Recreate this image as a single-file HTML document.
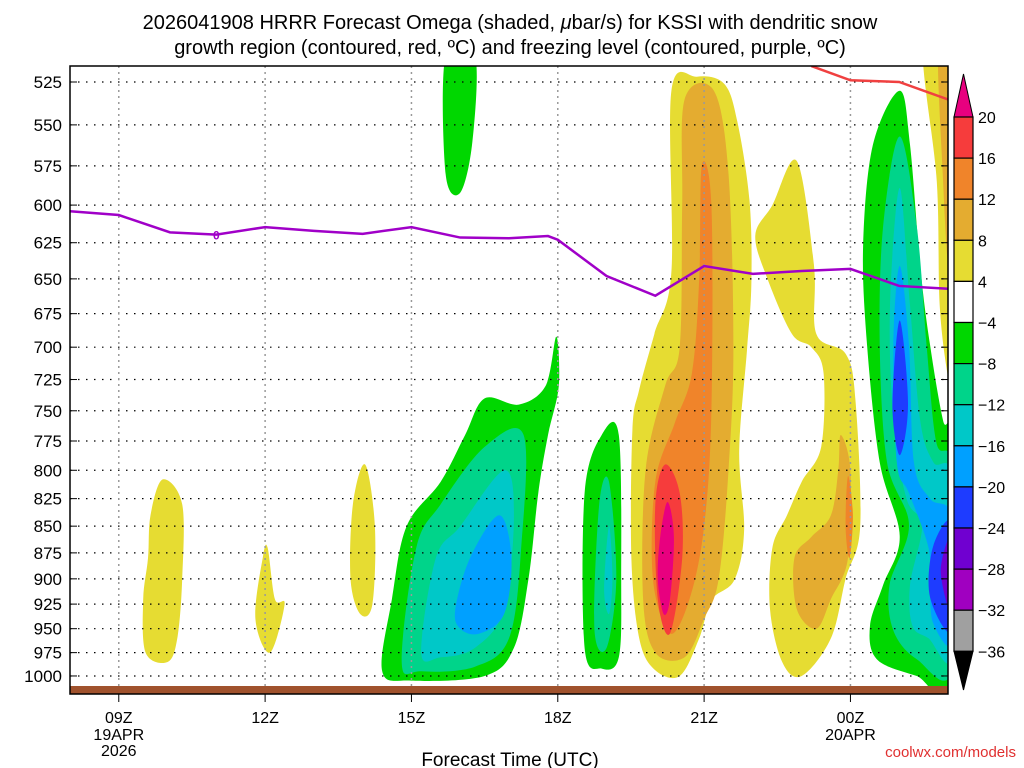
<!DOCTYPE html>
<html><head><meta charset="utf-8">
<style>
body{margin:0;background:#fff;}
svg{display:block;font-family:"Liberation Sans",sans-serif;}
</style></head>
<body>
<svg id="c" width="1024" height="768" viewBox="0 0 1024 768">
<text x="510" y="29" font-size="20" text-anchor="middle">2026041908 HRRR Forecast Omega (shaded, <tspan font-style="italic">μ</tspan>bar/s) for KSSI with dendritic snow</text>
<text x="510" y="54" font-size="20" text-anchor="middle">growth region (contoured, red, ºC) and freezing level (contoured, purple, ºC)</text>
<defs><clipPath id="pc"><rect x="70" y="66" width="878" height="622"/></clipPath></defs>
<g id="fills" clip-path="url(#pc)"></g>
<g id="grid"></g>
<g id="lines" clip-path="url(#pc)"></g>
<rect x="70" y="686" width="878" height="8" fill="#a0522d"/>
<rect x="70" y="66" width="878" height="628" fill="none" stroke="#000" stroke-width="1.5"/>
<g id="axes"></g>
<g id="cbar"></g>
<text x="510" y="766" font-size="19" text-anchor="middle">Forecast Time (UTC)</text>
<text x="1016" y="757" font-size="15" fill="#e03030" text-anchor="end">coolwx.com/models</text>
</svg>
<script>
const NS='http://www.w3.org/2000/svg';
// ---- data ----
const pressureTicks=[525,550,575,600,625,650,675,700,725,750,775,800,825,850,875,900,925,950,975,1000];
const timeTicks=[9,12,15,18,21,24];
const timeLabels=['09Z','12Z','15Z','18Z','21Z','00Z'];
const dateLabels=['19APR\n2026','','','','','20APR'];
const cbarLevels=['20','16','12','8','4','−4','−8','−12','−16','−20','−24','−28','−32','−36'];
const cbarColors=['#f63c3c','#f0842a','#e4ac30','#e6dc32','#ffffff','#00d700','#00d48a','#00c8c8','#00a0ff','#1e3cff','#7000d0','#a000c0','#a0a0a0'];
const freezeHours=[8,9,10.05,11,12,13,14,15,16,17,17.8,18,19,20,21,22,23,24,25,26];
const freezeP=[604,606.5,618,619.5,614.5,617,619,614.5,621.5,622,620.5,623,648,662,641,646.5,644.5,643,655,657];
const dendHours=[23.2,24,25,26];
const dendP=[516,524,525,535];
const C={y4:'#e6dc32',o8:'#e4ac30',o12:'#f0842a',r16:'#f63c3c',m20:'#e8007f',g4:'#00d700',t8:'#00d48a',c12:'#00c8c8',b16:'#00a0ff',b20:'#1e3cff',p24:'#7000d0',p28:'#a000c0'};
// contour polygons [level, [[hour,hPa],...]]
const blobs=[
['y4',[[9.55,975],[9.5,920],[9.6,880],[9.65,840],[9.9,808],[10.3,830],[10.3,900],[10.2,960],[10.0,985]]],
['y4',[[11.8,940],[11.95,880],[12.05,870],[12.2,920],[12.4,925],[12.1,975]]],
['y4',[[13.75,900],[13.8,830],[14.05,795],[14.25,850],[14.2,925],[13.95,935]]],
['g4',[[15.7,510],[16.3,510],[16.25,560],[16.0,592],[15.7,580]]],
['g4',[[14.4,995],[14.6,920],[14.9,850],[15.6,810],[16.1,770],[16.5,740],[17.2,745],[17.75,730],[17.97,692],[18.02,730],[17.8,770],[17.6,820],[17.4,900],[17.1,970],[16.5,1000],[15.0,1005]]],
['t8',[[14.8,985],[15.1,870],[15.6,830],[16.5,780],[17.3,770],[17.25,870],[17.0,960],[16.3,990],[15.2,995]]],
['c12',[[15.2,975],[15.5,880],[16.0,850],[16.9,800],[17.1,840],[16.9,930],[16.3,970],[15.6,980]]],
['b16',[[15.9,930],[16.2,880],[16.8,840],[17.05,880],[16.9,935],[16.4,955],[16.0,950]]],
['g4',[[18.55,970],[18.55,820],[18.9,770],[19.25,770],[19.3,900],[19.25,980],[18.9,992]]],
['t8',[[18.75,950],[18.85,830],[19.05,810],[19.2,900],[19.0,970]]],
['c12',[[18.95,910],[19.05,850],[19.12,900],[19.05,935]]],
['y4',[[20.33,530],[20.33,645],[19.98,690],[19.67,733],[19.53,766],[19.51,881],[19.67,960],[19.98,993],[20.5,1000],[20.9,960],[21.15,921],[21.62,901],[21.82,854],[21.72,783],[21.88,702],[21.97,652],[21.93,597],[21.68,548],[21.41,526],[20.85,522]]],
['o8',[[20.6,535],[21.2,530],[21.5,580],[21.6,700],[21.5,800],[21.3,900],[21.0,940],[20.6,980],[20.0,975],[19.75,920],[19.8,800],[20.2,730],[20.5,700],[20.55,600]]],
['o12',[[20.95,575],[21.15,600],[21.15,750],[21.0,850],[20.7,920],[20.3,955],[19.95,900],[20.0,810],[20.4,760],[20.75,720],[20.9,650]]],
['r16',[[20.0,830],[20.2,795],[20.5,820],[20.55,880],[20.3,955],[20.05,920]]],
['m20',[[20.1,860],[20.25,828],[20.38,860],[20.3,920],[20.17,935],[20.05,900]]],
['y4',[[22.9,572],[23.25,640],[23.3,690],[23.9,705],[24.1,740],[24.2,850],[23.9,900],[23.6,960],[23.0,1000],[22.6,985],[22.35,930],[22.4,870],[22.7,840],[23.0,810],[23.4,780],[23.45,720],[23.2,700],[22.8,690],[22.3,650],[22.05,620],[22.4,600]]],
['o8',[[23.8,770],[24.0,800],[23.95,880],[23.6,920],[23.3,950],[22.9,930],[22.85,880],[23.2,860],[23.6,840],[23.75,800]]],
['o12',[[23.95,805],[24.05,840],[23.98,880],[23.9,850]]],
['g4',[[25.01,530],[25.22,562],[25.43,641],[25.63,698],[25.9,758],[26.1,776],[26.1,1010],[25.36,1000],[24.54,982],[24.4,947],[24.67,906],[25.01,859],[24.6,793],[24.34,698],[24.26,627],[24.46,562]]],
['t8',[[25.01,557],[25.36,614],[25.56,698],[25.76,776],[26.1,801],[26.1,991],[25.36,982],[24.88,952],[24.8,906],[25.2,849],[24.75,793],[24.6,698],[24.67,614]]],
['c12',[[25.01,589],[25.22,669],[25.43,758],[25.7,793],[26.1,809],[26.1,977],[25.6,960],[25.27,947],[25.22,906],[25.47,849],[25.15,825],[24.88,758],[24.81,669]]],
['b16',[[25.01,641],[25.2,698],[25.3,793],[25.63,825],[26.1,844],[26.1,962],[25.7,945],[25.63,906],[25.6,870],[25.2,820],[24.95,793],[24.88,698]]],
['b20',[[25.01,680],[25.18,745],[25.01,787],[24.86,745]]],
['b20',[[26.1,848],[25.7,868],[25.63,918],[26.1,952]]],
['p24',[[26.1,858],[25.85,892],[26.1,937]]],
['y4',[[25.49,505],[26.1,505],[26.1,730],[26.0,723],[25.83,669],[25.77,585]]],
['o8',[[25.8,505],[26.1,505],[26.1,650],[26.0,641],[25.9,585]]]
];
// ---- axes ----
const X0=70,X1=948,H0=8,H1=26;
function x(h){return X0+(h-H0)*(X1-X0)/(H1-H0);}
function y(p){return 82+921.8*Math.log(p/525);}
function el(t,a,parent){const e=document.createElementNS(NS,t);for(const k in a)e.setAttribute(k,a[k]);parent.appendChild(e);return e;}
function smooth(pts){
  const n=pts.length;let d='M'+pts[0][0].toFixed(1)+','+pts[0][1].toFixed(1);
  for(let i=0;i<n;i++){const p0=pts[(i-1+n)%n],p1=pts[i],p2=pts[(i+1)%n],p3=pts[(i+2)%n];
    const c1=[p1[0]+(p2[0]-p0[0])/6,p1[1]+(p2[1]-p0[1])/6],c2=[p2[0]-(p3[0]-p1[0])/6,p2[1]-(p3[1]-p1[1])/6];
    d+='C'+c1[0].toFixed(1)+','+c1[1].toFixed(1)+' '+c2[0].toFixed(1)+','+c2[1].toFixed(1)+' '+p2[0].toFixed(1)+','+p2[1].toFixed(1);}
  return d+'Z';
}
const fills=document.getElementById('fills');
blobs.forEach(b=>{
  const pts=b[1].map(v=>[x(v[0]),y(v[1])]);
  const pth=el('path',{d:smooth(pts),fill:C[b[0]]},fills);
  
  
});
const grid=document.getElementById('grid'),axes=document.getElementById('axes');
pressureTicks.forEach(p=>{
  const gy=y(p);
  const l=el('line',{x1:X0,x2:X1,y1:gy,y2:gy,stroke:'#000','stroke-width':1.2,'stroke-dasharray':'1.5 6.5'},grid);
  
  
  el('line',{x1:X0,x2:X0+7,y1:gy,y2:gy,stroke:'#000','stroke-width':1},axes);
  el('line',{x1:X1-7,x2:X1,y1:gy,y2:gy,stroke:'#000','stroke-width':1},axes);
  const t=el('text',{x:62,y:gy+6,'font-size':17,'text-anchor':'end'},axes);
  t.textContent=p;
  
  
});
timeTicks.forEach((h,i)=>{
  const gx=x(h);
  const l=el('line',{x1:gx,x2:gx,y1:66,y2:694,stroke:'#999','stroke-width':1.5,'stroke-dasharray':'2 4'},grid);
  
  
  el('line',{x1:gx,x2:gx,y1:694,y2:702,stroke:'#000','stroke-width':1},axes);
  const t=el('text',{x:gx,y:723,'font-size':16,'text-anchor':'middle'},axes);
  t.textContent=timeLabels[i];
  
  
  dateLabels[i].split('\n').forEach((s,j)=>{if(!s)return;
    const d=el('text',{x:gx,y:740+j*16,'font-size':16,'text-anchor':'middle'},axes);d.textContent=s;
    
    });
});
const lines=document.getElementById('lines');
const fl=el('polyline',{points:freezeHours.map((h,i)=>x(h)+','+y(freezeP[i])).join(' '),fill:'none',stroke:'#a000c8','stroke-width':2.5},lines);


const fz=el('text',{x:x(11),y:y(619.5)+5,'font-size':12,fill:'#a000c8','text-anchor':'middle','font-weight':'bold'},lines);
fz.textContent='0';


const dl=el('polyline',{points:dendHours.map((h,i)=>x(h)+','+y(dendP[i])).join(' '),fill:'none',stroke:'#f04040','stroke-width':2.5},lines);


// colorbar
const cb=document.getElementById('cbar');const BX=954,BW=19,BT=117,BH=41.1;
const tu=el('polygon',{points:`${BX},${BT} ${BX+BW},${BT} ${BX+BW/2},74`,fill:'#e8007f',stroke:'#000'},cb);


cbarColors.forEach((c,i)=>{
  const r=el('rect',{x:BX,y:BT+i*BH,width:BW,height:BH,fill:c,stroke:'#000','stroke-width':1.2},cb);
  
  
});
const bb=BT+cbarColors.length*BH;
const td=el('polygon',{points:`${BX},${bb} ${BX+BW},${bb} ${BX+BW/2},690`,fill:'#000',stroke:'#000'},cb);


cbarLevels.forEach((s,i)=>{
  const t=el('text',{x:978,y:BT+i*BH+6,'font-size':16},cb);t.textContent=s;
  
  
});
</script>
</body></html>
